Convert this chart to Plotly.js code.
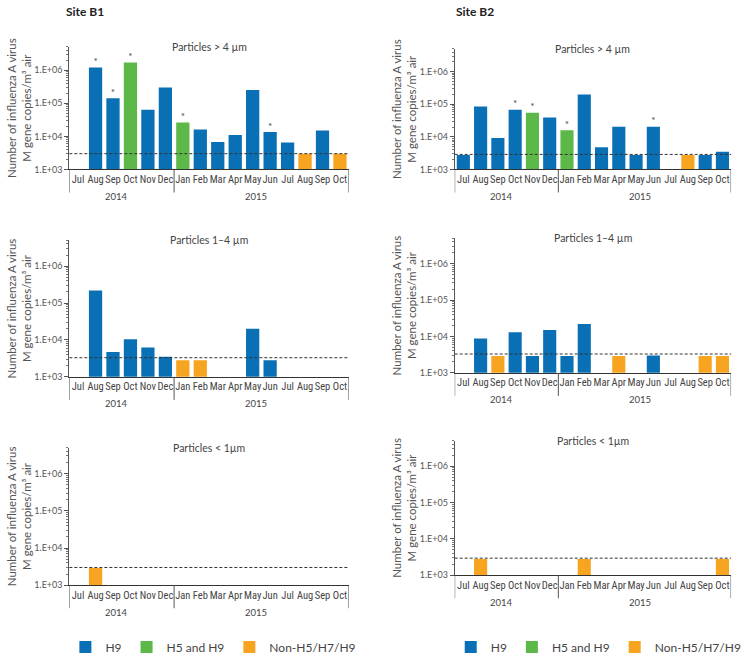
<!DOCTYPE html>
<html>
<head>
<meta charset="utf-8">
<script src="https://cdn.plot.ly/plotly-3.0.1.min.js"></script>
<style>html,body{margin:0;padding:0;background:#fff}#chart{width:747px;height:662px}</style>
</head>
<body>
<div id="chart"></div>
<script>
// ---------- DATA ----------
const months = ['Jul','Aug','Sep','Oct','Nov','Dec','Jan','Feb','Mar','Apr','May','Jun','Jul','Aug','Sep','Oct'];
const years  = ['2014','2014','2014','2014','2014','2014','2015','2015','2015','2015','2015','2015','2015','2015','2015','2015'];
const tickValuesY = [1e3, 1e4, 1e5, 1e6];
const tickLabelsY = ['1.E+03', '1.E+04', '1.E+05', '1.E+06'];
const typeKeys   = ['H9', 'H5H9', 'Non'];
const typeNames  = ['H9', 'H5 and H9', 'Non-H5/H7/H9'];
const siteTitles = ['Site B1', 'Site B2'];
const sizeTitles = ['Particles > 4 µm', 'Particles 1–4 µm', 'Particles < 1µm'];

// Site B1, particles > 4 µm
const b1Gt4Values = [null, 1.2e6, 1.4e5, 1.7e6, 6.3e4, 3.0e5, 2.6e4, 1.6e4, 6.8e3, 1.1e4, 2.5e5, 1.35e4, 6.5e3, 3.0e3, 1.5e4, 3.0e3];
const b1Gt4Types  = [null, 'H9', 'H9', 'H5H9', 'H9', 'H9', 'H5H9', 'H9', 'H9', 'H9', 'H9', 'H9', 'H9', 'Non', 'H9', 'Non'];
const b1Gt4Stars  = [0, 1, 1, 1, 0, 0, 1, 0, 0, 0, 0, 1, 0, 0, 0, 0];
const b1Gt4Lod = 3000;

// Site B2, particles > 4 µm
const b2Gt4Values = [2.8e3, 8.5e4, 9.3e3, 6.8e4, 5.5e4, 3.9e4, 1.6e4, 2.0e5, 4.8e3, 2.05e4, 2.8e3, 2.05e4, null, 2.8e3, 2.8e3, 3.5e3];
const b2Gt4Types  = ['H9', 'H9', 'H9', 'H9', 'H5H9', 'H9', 'H5H9', 'H9', 'H9', 'H9', 'H9', 'H9', null, 'Non', 'H9', 'H9'];
const b2Gt4Stars  = [0, 0, 0, 1, 1, 0, 1, 0, 0, 0, 0, 1, 0, 0, 0, 0];
const b2Gt4Lod = 2900;

// Site B1, particles 1–4 µm
const b1MidValues = [null, 2.2e5, 4.7e3, 1.04e4, 6.2e3, 3.5e3, 2.8e3, 2.8e3, null, null, 2.0e4, 2.8e3, null, null, null, null];
const b1MidTypes  = [null, 'H9', 'H9', 'H9', 'H9', 'H9', 'Non', 'Non', null, null, 'H9', 'H9', null, null, null, null];
const b1MidStars  = [0, 0, 0, 0, 0, 0, 0, 0, 0, 0, 0, 0, 0, 0, 0, 0];
const b1MidLod = 3300;

// Site B2, particles 1–4 µm
const b2MidValues = [null, 8.8e3, 2.9e3, 1.3e4, 2.9e3, 1.5e4, 2.9e3, 2.2e4, null, 2.9e3, null, 3.0e3, null, null, 2.9e3, 2.9e3];
const b2MidTypes  = [null, 'H9', 'Non', 'H9', 'H9', 'H9', 'H9', 'H9', null, 'Non', null, 'H9', null, null, 'Non', 'Non'];
const b2MidStars  = [0, 0, 0, 0, 0, 0, 0, 0, 0, 0, 0, 0, 0, 0, 0, 0];
const b2MidLod = 3300;

// Site B1, particles < 1 µm
const b1Lt1Values = [null, 2.9e3, null, null, null, null, null, null, null, null, null, null, null, null, null, null];
const b1Lt1Types  = [null, 'Non', null, null, null, null, null, null, null, null, null, null, null, null, null, null];
const b1Lt1Stars  = [0, 0, 0, 0, 0, 0, 0, 0, 0, 0, 0, 0, 0, 0, 0, 0];
const b1Lt1Lod = 3000;

// Site B2, particles < 1 µm
const b2Lt1Values = [null, 2.8e3, null, null, null, null, null, 2.8e3, null, null, null, null, null, null, null, 2.8e3];
const b2Lt1Types  = [null, 'Non', null, null, null, null, null, 'Non', null, null, null, null, null, null, null, 'Non'];
const b2Lt1Stars  = [0, 0, 0, 0, 0, 0, 0, 0, 0, 0, 0, 0, 0, 0, 0, 0];
const b2Lt1Lod = 2950;

// ---------- STYLE ----------
const typeColors = {H9: '#0a70b5', H5H9: '#5cb848', Non: '#f7a520'};
const W = 747, H = 662;
const FONT = 'Lato, "Open Sans", sans-serif';
const NARROW = '"Liberation Sans Narrow", "Roboto Condensed", Roboto, sans-serif';
const TXT = '#444';

const panels = [
  {values: b1Gt4Values, types: b1Gt4Types, stars: b1Gt4Stars, lod: b1Gt4Lod, title: sizeTitles[0], n: 1, legend: 'legend',  side: 0, ypx: [47, 170]},
  {values: b2Gt4Values, types: b2Gt4Types, stars: b2Gt4Stars, lod: b2Gt4Lod, title: sizeTitles[0], n: 2, legend: 'legend2', side: 1, ypx: [49, 170]},
  {values: b1MidValues, types: b1MidTypes, stars: b1MidStars, lod: b1MidLod, title: sizeTitles[1], n: 3, legend: null, side: 0, ypx: [241, 378]},
  {values: b2MidValues, types: b2MidTypes, stars: b2MidStars, lod: b2MidLod, title: sizeTitles[1], n: 4, legend: null, side: 1, ypx: [239, 374]},
  {values: b1Lt1Values, types: b1Lt1Types, stars: b1Lt1Stars, lod: b1Lt1Lod, title: sizeTitles[2], n: 5, legend: null, side: 0, ypx: [449, 587]},
  {values: b2Lt1Values, types: b2Lt1Types, stars: b2Lt1Stars, lod: b2Lt1Lod, title: sizeTitles[2], n: 6, legend: null, side: 1, ypx: [442, 577]}
];
const xpx = [[70, 352], [459, 738]];

const categories = months.map((m, i) => m + ' ' + years[i]);

// year groups
const yearGroups = [];
years.forEach((y, i) => {
  const g = yearGroups[yearGroups.length - 1];
  if (g && g.year === y) g.last = i; else yearGroups.push({year: y, first: i, last: i});
});

// minor ticks for log axis
const minorVals = [];
for (let d = 3; d <= 6; d++) for (let k = 2; k <= 9; k++) minorVals.push(k * Math.pow(10, d));

const traces = [];
const layout = {
  width: W, height: H,
  margin: {l: 0, r: 0, t: 0, b: 0},
  paper_bgcolor: '#fff', plot_bgcolor: '#fff',
  barmode: 'overlay', bargap: 0.24,
  font: {family: FONT, size: 10, color: TXT},
  showlegend: true,
  hovermode: false,
  legend:  {orientation: 'h', x: 66 / W, xanchor: 'left', y: 1 - 649 / H, yanchor: 'middle', font: {size: 12, color: TXT}, bgcolor: 'rgba(0,0,0,0)'},
  legend2: {orientation: 'h', x: 455 / W, xanchor: 'left', y: 1 - 649 / H, yanchor: 'middle', font: {size: 12, color: TXT}, bgcolor: 'rgba(0,0,0,0)'},
  shapes: [], annotations: []
};

panels.forEach(p => {
  const xa = 'x' + (p.n === 1 ? '' : p.n), ya = 'y' + (p.n === 1 ? '' : p.n);
  const xk = 'xaxis' + (p.n === 1 ? '' : p.n), yk = 'yaxis' + (p.n === 1 ? '' : p.n);
  typeKeys.forEach((t, ti) => {
    const tr = {
      type: 'bar', x: categories,
      y: p.values.map((v, i) => p.types[i] === t ? v : null),
      marker: {color: typeColors[t], line: {width: 0}},
      name: typeNames[ti], xaxis: xa, yaxis: ya,
      showlegend: !!p.legend
    };
    if (p.legend) tr.legend = p.legend;
    traces.push(tr);
  });
  const sx = [], sy = [];
  p.stars.forEach((s, i) => { if (s && p.values[i] != null) { sx.push(categories[i]); sy.push(p.values[i]); } });
  traces.push({type: 'scatter', mode: 'text', x: sx, y: sy, text: sx.map(() => '*'), textposition: 'top center',
    textfont: {size: 10, color: TXT}, xaxis: xa, yaxis: ya, showlegend: false, cliponaxis: false});

  layout[xk] = {
    domain: [xpx[p.side][0] / W, xpx[p.side][1] / W], anchor: ya,
    type: 'category', range: [-0.5, categories.length - 0.5],
    tickmode: 'array', tickvals: categories, ticktext: months, tickangle: 0,
    ticks: '', showline: true, linecolor: '#333', linewidth: 1, showgrid: false, zeroline: false,
    tickfont: {family: NARROW, size: 10.5, color: TXT}, fixedrange: true
  };
  layout[yk] = {
    domain: [1 - p.ypx[1] / H, 1 - p.ypx[0] / H], anchor: xa,
    type: 'log', range: [3, 6.7],
    tickmode: 'array', tickvals: tickValuesY, ticktext: tickLabelsY,
    ticks: 'outside', ticklen: 4, tickcolor: '#555', tickwidth: 1,
    minor: {tickmode: 'array', tickvals: minorVals, ticks: 'outside', ticklen: 2, tickcolor: '#777', tickwidth: 1, showgrid: false},
    showline: true, linecolor: '#555', linewidth: 1, showgrid: false, zeroline: false,
    tickfont: {size: 9, color: '#555'},
    title: {text: 'Number of influenza A virus<br>M gene copies/m³ air', font: {size: 11.5, color: '#555'}, standoff: 0},
    fixedrange: true
  };

  // detection-limit dashed line (drawn over the bars)
  layout.shapes.push({type: 'line', layer: 'above', xref: xa + ' domain', yref: ya, x0: 0, x1: 1,
    y0: p.lod, y1: p.lod, line: {color: '#333', width: 1, dash: '3px,2px'}});

  // year dividers and labels
  const bounds = [-0.5].concat(yearGroups.map(g => g.last + 0.5));
  bounds.forEach(b => layout.shapes.push({type: 'line', xref: xa, yref: ya + ' domain',
    ysizemode: 'pixel', yanchor: 0, x0: b, x1: b, y0: 0, y1: -23, line: {color: '#555', width: 1}}));
  yearGroups.forEach(g => layout.annotations.push({xref: xa, yref: ya + ' domain', x: (g.first + g.last) / 2, y: 0,
    yanchor: 'middle', yshift: -27, xshift: -5, showarrow: false, text: g.year, font: {size: 9.5, color: TXT}}));

  // panel title
  layout.annotations.push({xref: xa + ' domain', yref: ya + ' domain', x: 0.5, y: 1, yanchor: 'middle',
    showarrow: false, text: p.title, font: {size: 10.5, color: TXT}});
});

// site titles
layout.annotations.push({xref: 'paper', yref: 'paper', x: 65 / W, y: 1 - 12 / H, xanchor: 'left', yanchor: 'middle',
  showarrow: false, text: '<b>' + siteTitles[0] + '</b>', font: {size: 12, color: '#222'}});
layout.annotations.push({xref: 'paper', yref: 'paper', x: 458 / W, y: 1 - 12 / H, xanchor: 'left', yanchor: 'middle',
  showarrow: false, text: '<b>' + siteTitles[1] + '</b>', font: {size: 12, color: '#222'}});

Plotly.newPlot('chart', traces, layout, {displayModeBar: false, staticPlot: true});
</script>
</body>
</html>
